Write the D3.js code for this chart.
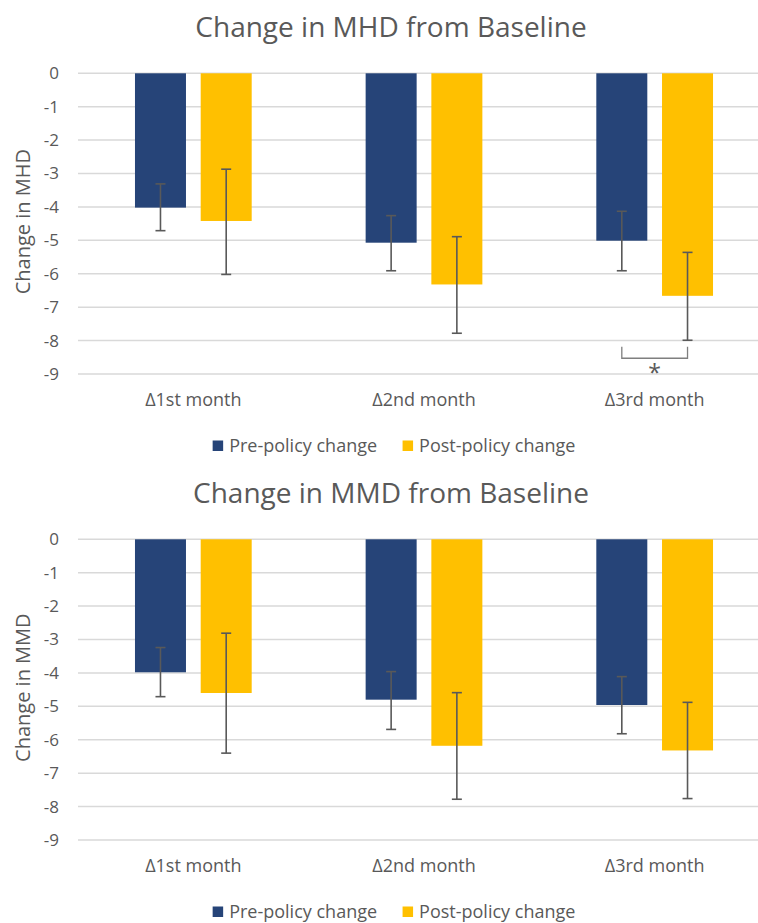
<!DOCTYPE html>
<html>
<head>
<meta charset="utf-8">
<script src="https://cdn.jsdelivr.net/npm/d3@7"></script>
<style>
  html, body { margin: 0; padding: 0; background: #fff; }
  svg { display: block; }
  text { font-family: "Open Sans", "Noto Sans", sans-serif; fill: #595959; }
</style>
</head>
<body>
<svg id="chart" width="758" height="923"></svg>
<script>
// ---- data ----
const categories = ["\u03941st month", "\u03942nd month", "\u03943rd month"];
const seriesNames = ["Pre-policy change", "Post-policy change"];
const yTicks = [0, -1, -2, -3, -4, -5, -6, -7, -8, -9];

// MHD chart
const mhdPre      = [-4.02, -5.07, -5.01];
const mhdPreHigh  = [-3.31, -4.26, -4.13];
const mhdPreLow   = [-4.71, -5.91, -5.91];
const mhdPost     = [-4.42, -6.32, -6.66];
const mhdPostHigh = [-2.87, -4.89, -5.36];
const mhdPostLow  = [-6.02, -7.78, -7.99];
const mhdSignificant = [false, false, true];

// MMD chart
const mmdPre      = [-3.98, -4.80, -4.96];
const mmdPreHigh  = [-3.24, -3.96, -4.11];
const mmdPreLow   = [-4.71, -5.69, -5.82];
const mmdPost     = [-4.60, -6.18, -6.32];
const mmdPostHigh = [-2.81, -4.59, -4.88];
const mmdPostLow  = [-6.40, -7.78, -7.76];
const mmdSignificant = [false, false, false];

const colors = ["#264478", "#FFC000"];

// ---- drawing ----
const svg = d3.select("#chart");

function drawPanel(offsetY, title, yTitle, pre, preHigh, preLow, post, postHigh, postLow, significant) {
  const g = svg.append("g").attr("transform", `translate(0,${offsetY})`);
  const plotLeft = 78, plotRight = 770, plotTop = 73.3, plotBottom = 374;

  const y = d3.scaleLinear().domain([-9, 0]).range([plotBottom, plotTop]);
  const x0 = d3.scaleBand().domain(categories).range([plotLeft, plotRight])
    .paddingInner(0.494).paddingOuter(0.247);
  const x1 = d3.scaleBand().domain(seriesNames).range([0, x0.bandwidth()])
    .paddingInner(0.224).paddingOuter(0);

  // title
  g.append("text").attr("x", 391).attr("y", 36.5)
    .attr("text-anchor", "middle").style("font-size", "28px").text(title);

  // gridlines
  g.append("g").selectAll("line").data(yTicks).join("line")
    .attr("x1", plotLeft).attr("x2", 758)
    .attr("y1", d => y(d)).attr("y2", d => y(d))
    .attr("stroke", "#d9d9d9").attr("stroke-width", 1.5);

  // y axis labels
  const yAxis = d3.axisLeft(y).tickValues(yTicks).tickSize(0).tickPadding(0)
    .tickFormat(d => d === 0 ? "0" : "-" + Math.abs(d));
  const ya = g.append("g").attr("transform", `translate(59,0)`).call(yAxis);
  ya.select(".domain").remove();
  ya.selectAll("text").style("font-size", "17px").attr("fill", "#595959")
    .style("font-family", '"Open Sans", "Noto Sans", sans-serif');

  // y title
  g.append("text")
    .attr("transform", `translate(30,${(plotTop + plotBottom) / 2 - 2}) rotate(-90)`)
    .attr("text-anchor", "middle").style("font-size", "20px").text(yTitle);

  // x labels
  const xAxis = d3.axisBottom(x0).tickSize(0).tickPadding(0);
  const xa = g.append("g").attr("transform", `translate(0,${plotBottom + 19})`).call(xAxis);
  xa.select(".domain").remove();
  xa.selectAll("text").style("font-size", "18px").attr("fill", "#595959")
    .style("font-family", '"Open Sans", "Noto Sans", sans-serif');

  // data rows
  const rows = [];
  categories.forEach((c, i) => {
    rows.push({ cat: c, s: seriesNames[0], v: pre[i], hi: preHigh[i], lo: preLow[i], color: colors[0] });
    rows.push({ cat: c, s: seriesNames[1], v: post[i], hi: postHigh[i], lo: postLow[i], color: colors[1] });
  });

  // bars
  g.append("g").selectAll("rect").data(rows).join("rect")
    .attr("x", d => x0(d.cat) + x1(d.s))
    .attr("width", x1.bandwidth())
    .attr("y", y(0))
    .attr("height", d => y(d.v) - y(0))
    .attr("fill", d => d.color);

  // error bars
  const eb = g.append("g").attr("stroke", "#595959").attr("stroke-width", 1.6);
  const cx = d => x0(d.cat) + x1(d.s) + x1.bandwidth() / 2;
  eb.selectAll("line.v").data(rows).join("line").attr("class", "v")
    .attr("x1", cx).attr("x2", cx).attr("y1", d => y(d.hi)).attr("y2", d => y(d.lo));
  eb.selectAll("line.t").data(rows).join("line").attr("class", "t")
    .attr("x1", d => cx(d) - 5).attr("x2", d => cx(d) + 5)
    .attr("y1", d => y(d.hi)).attr("y2", d => y(d.hi));
  eb.selectAll("line.b").data(rows).join("line").attr("class", "b")
    .attr("x1", d => cx(d) - 5).attr("x2", d => cx(d) + 5)
    .attr("y1", d => y(d.lo)).attr("y2", d => y(d.lo));

  // significance bracket
  categories.forEach((c, i) => {
    if (!significant[i]) return;
    const xa_ = x0(c) + x1(seriesNames[0]) + x1.bandwidth() / 2;
    const xb_ = x0(c) + x1(seriesNames[1]) + x1.bandwidth() / 2;
    const yTop = y(Math.min(preLow[i], postLow[i])) + 6.5;
    const yBot = yTop + 11.5;
    g.append("path")
      .attr("d", `M${xa_},${yTop}V${yBot}H${xb_}V${yTop}`)
      .attr("fill", "none").attr("stroke", "#7f7f7f").attr("stroke-width", 1.3);
    g.append("text").attr("x", (xa_ + xb_) / 2).attr("y", yBot + 23)
      .attr("text-anchor", "middle").style("font-size", "23px").text("*");
  });

  // legend
  const lg = g.append("g");
  const items = lg.selectAll("g").data(seriesNames).join("g");
  items.append("rect").attr("width", 10.5).attr("height", 10.5)
    .attr("y", 440.5).attr("fill", (d, i) => colors[i]);
  items.append("text").attr("x", 16.5).attr("y", 452)
    .style("font-size", "18px").text(d => d);
  let xPos = 0;
  items.each(function () {
    const w = this.getBBox().width;
    d3.select(this).attr("transform", `translate(${xPos},0)`);
    xPos += w + 25.5;
  });
  const total = xPos - 25.5;
  lg.attr("transform", `translate(${394 - total / 2},0)`);
}

drawPanel(0, "Change in MHD from Baseline", "Change in MHD",
  mhdPre, mhdPreHigh, mhdPreLow, mhdPost, mhdPostHigh, mhdPostLow, mhdSignificant);
drawPanel(466, "Change in MMD from Baseline", "Change in MMD",
  mmdPre, mmdPreHigh, mmdPreLow, mmdPost, mmdPostHigh, mmdPostLow, mmdSignificant);
</script>
</body>
</html>
